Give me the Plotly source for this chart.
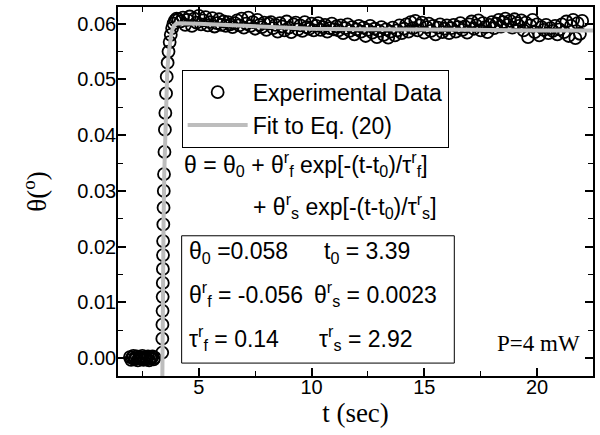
import numpy as np
import plotly.graph_objects as go

# experimental data: baseline before switching on
t_base = [1.95, 2.0, 2.05, 2.1, 2.15, 2.2, 2.25, 2.3, 2.35, 2.4, 2.45, 2.5,
          2.55, 2.6, 2.65, 2.7, 2.75, 2.8, 2.85, 2.9, 2.95, 3.0, 3.05]
theta_base = [0.0002, -0.0003, 0.0001, 0.0004, -0.0002, 0.0000, 0.0003, -0.0004,
              0.0001, 0.0002, -0.0001, 0.0004, -0.0003, 0.0000, 0.0002, -0.0002,
              0.0003, -0.0004, 0.0001, 0.0000, 0.0003, -0.0002, 0.0001]

# fast rise after t0
t_rise = [3.38, 3.385, 3.39, 3.395, 3.40, 3.405, 3.41, 3.415, 3.42, 3.43, 3.44,
          3.45, 3.46, 3.48, 3.50, 3.52, 3.55, 3.58, 3.62, 3.66, 3.71, 3.76,
          3.82, 3.88, 3.95, 4.02, 4.10]
theta_rise = [0.0010, 0.0035, 0.0060, 0.0085, 0.0110, 0.0135, 0.0160, 0.0185,
              0.0210, 0.0240, 0.0270, 0.0300, 0.0330, 0.0370, 0.0410, 0.0440,
              0.0475, 0.0505, 0.0530, 0.0550, 0.0567, 0.0580, 0.0592, 0.0600,
              0.0606, 0.0609, 0.0608]

# plateau, sampled every 0.1 s from 4.2 to 22.0
t_flat = np.arange(42, 221) / 10
theta_flat = [
    0.0604, 0.0611, 0.0598, 0.0607, 0.0613, 0.0596, 0.0609, 0.0602, 0.0614, 0.0599,
    0.0606, 0.0612, 0.0597, 0.0603, 0.0610, 0.0595, 0.0601, 0.0608, 0.0598, 0.0604,
    0.0596, 0.0603, 0.0599, 0.0594, 0.0601, 0.0606, 0.0597, 0.0609, 0.0593, 0.0600,
    0.0611, 0.0596, 0.0603, 0.0591, 0.0607, 0.0598, 0.0594, 0.0602, 0.0589, 0.0600,
    0.0603, 0.0592, 0.0598, 0.0586, 0.0601, 0.0595, 0.0588, 0.0604, 0.0593, 0.0585,
    0.0599, 0.0602, 0.0590, 0.0597, 0.0587, 0.0603, 0.0594, 0.0591, 0.0600, 0.0588,
    0.0596, 0.0601, 0.0589, 0.0594, 0.0598, 0.0586, 0.0592, 0.0600, 0.0590, 0.0595,
    0.0588, 0.0597, 0.0583, 0.0592, 0.0599, 0.0587, 0.0594, 0.0581, 0.0590, 0.0596,
    0.0586, 0.0593, 0.0578, 0.0589, 0.0596, 0.0584, 0.0591, 0.0576, 0.0587, 0.0594,
    0.0580, 0.0590, 0.0575, 0.0586, 0.0593, 0.0579, 0.0588, 0.0597, 0.0583, 0.0591,
    0.0599, 0.0586, 0.0603, 0.0592, 0.0605, 0.0588, 0.0597, 0.0602, 0.0584, 0.0594,
    0.0600, 0.0587, 0.0596, 0.0581, 0.0593, 0.0599, 0.0585, 0.0591, 0.0597, 0.0583,
    0.0592, 0.0598, 0.0586, 0.0594, 0.0601, 0.0589, 0.0595, 0.0584, 0.0599, 0.0604,
    0.0591, 0.0597, 0.0606, 0.0588, 0.0601, 0.0594, 0.0585, 0.0598, 0.0603, 0.0592,
    0.0600, 0.0607, 0.0595, 0.0603, 0.0609, 0.0598, 0.0605, 0.0593, 0.0608, 0.0601,
    0.0596, 0.0606, 0.0588, 0.0602, 0.0576, 0.0597, 0.0607, 0.0585, 0.0599, 0.0579,
    0.0594, 0.0589, 0.0598, 0.0583, 0.0592, 0.0587, 0.0596, 0.0581, 0.0590, 0.0599,
    0.0585, 0.0604, 0.0578, 0.0596, 0.0607, 0.0574, 0.0601, 0.0582, 0.0605,
]

# fitted curve
t_fit = [3.385, 3.39, 3.40, 3.42, 3.44, 3.47, 3.50, 3.55, 3.60, 3.66, 3.72, 3.80,
         3.90, 4.00, 4.15, 4.4, 5, 6, 7, 8, 9, 10, 12, 14, 17, 20, 22.5]
theta_fit = [-0.004, 0.004, 0.009, 0.017, 0.024, 0.033, 0.039, 0.046, 0.051,
             0.0545, 0.0568, 0.0586, 0.0596, 0.0600, 0.0601, 0.0601, 0.0600,
             0.0598, 0.0596, 0.0594, 0.0592, 0.0591, 0.0590, 0.0589, 0.0589,
             0.0588, 0.0588]

t_exp = list(t_base) + list(t_rise) + list(t_flat)
theta_exp = theta_base + theta_rise + theta_flat

SANS = "Liberation Sans, Arial, sans-serif"
SERIF = "Liberation Serif, Times New Roman, serif"

fig = go.Figure()
fig.add_trace(go.Scatter(x=t_exp, y=theta_exp, mode="markers", name="Experimental Data",
                         marker=dict(symbol="circle-open", size=12, color="black",
                                     line=dict(width=1.8, color="black"))))
fig.add_trace(go.Scatter(x=t_fit, y=theta_fit, mode="lines", name="Fit to Eq. (20)",
                         line=dict(color="#bdbdbd", width=4)))

axis_common = dict(showline=True, linecolor="black", linewidth=1.5, mirror="allticks",
                   ticks="inside", ticklen=8, tickwidth=1.5, tickcolor="black",
                   showgrid=False, zeroline=False,
                   tickfont=dict(family=SANS, size=20, color="black"))

fig.update_xaxes(range=[1.42, 22.48], tick0=0, dtick=5, ticklabelstandoff=-8,
                 minor=dict(ticks="inside", ticklen=5, tickwidth=1.2, tickcolor="black",
                            tick0=0, dtick=2.5),
                 title=dict(text="t (sec)", font=dict(family=SERIF, size=27, color="black"),
                            standoff=2),
                 **axis_common)
fig.update_yaxes(range=[-0.0032, 0.063], tick0=0, dtick=0.01, tickformat=".2f",
                 ticklabelstandoff=-4,
                 minor=dict(ticks="inside", ticklen=5, tickwidth=1.2, tickcolor="black",
                            tick0=0, dtick=0.005),
                 title=dict(text="θ(<sup>o</sup>)", font=dict(family=SERIF, size=27, color="black"),
                            standoff=23),
                 **axis_common)

def note(text, x, y, size=23, anchor="left", family=SANS):
    fig.add_annotation(text=text, x=x, y=y, xref="paper", yref="paper", showarrow=False,
                       xanchor=anchor, yanchor="middle",
                       font=dict(family=family, size=size, color="black"))

note("θ = θ<sub>0</sub> + θ<sup>r</sup><sub>f</sub> exp[-(t-t<sub>0</sub>)/τ<sup>r</sup><sub>f</sub>]",
     0.134, 0.575)
note("+ θ<sup>r</sup><sub>s</sub> exp[-(t-t<sub>0</sub>)/τ<sup>r</sup><sub>s</sub>]", 0.280, 0.46)

fig.add_shape(type="rect", xref="paper", yref="paper", x0=0.134, x1=0.708, y0=0.035, y1=0.380,
              line=dict(color="black", width=1), fillcolor="white", layer="above")
note("θ<sub>0</sub> =0.058", 0.145, 0.335)
note("t<sub>0</sub> = 3.39", 0.429, 0.335)
note("θ<sup>r</sup><sub>f</sub> = -0.056", 0.145, 0.222)
note("θ<sup>r</sup><sub>s</sub> = 0.0023", 0.408, 0.222)
note("τ<sup>r</sup><sub>f</sub> = 0.14", 0.145, 0.103)
note("τ<sup>r</sup><sub>s</sub> = 2.92", 0.418, 0.103)
note("P=4 mW", 0.977, 0.089, size=23, anchor="right", family=SERIF)

fig.update_layout(width=600, height=435, margin=dict(l=118, r=6, t=5, b=59),
                  paper_bgcolor="white", plot_bgcolor="white",
                  legend=dict(x=0.134, y=0.830, xanchor="left", yanchor="top",
                              bgcolor="white", bordercolor="black", borderwidth=1,
                              font=dict(family=SANS, size=23, color="black"),
                              itemwidth=60, tracegroupgap=0))

fig.write_html("out.html", config={"displayModeBar": False},
               post_script="document.body.style.margin='0px';")
